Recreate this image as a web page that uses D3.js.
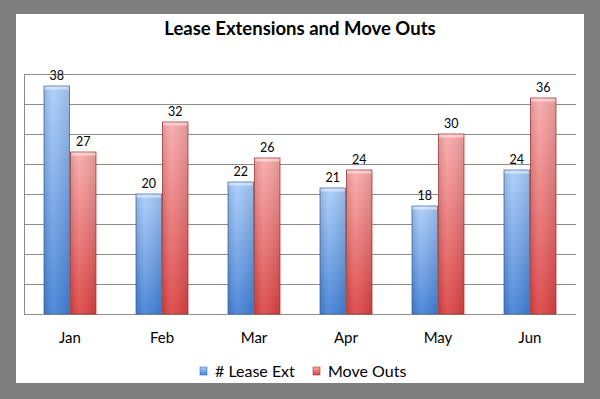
<!DOCTYPE html>
<html>
<head>
<meta charset="utf-8">
<script src="https://cdn.jsdelivr.net/npm/d3@7"></script>
<style>
  html, body { margin: 0; padding: 0; background: #7f7f7f; }
  svg { display: block; }
</style>
</head>
<body>
<svg id="chart"></svg>
<script>
// chart values
var months = ["Jan", "Feb", "Mar", "Apr", "May", "Jun"]
var seriesNames = ["# Lease Ext", "Move Outs"]
var leaseExt = [38, 20, 22, 21, 18, 24]
var moveOuts = [27, 32, 26, 24, 30, 36]
var gridTicks = [0, 5, 10, 15, 20, 25, 30, 35, 40]

var width = 600, height = 399
var plot = {left: 24, right: 576, top: 74, bottom: 314}

var svg = d3.select("#chart")
    .attr("width", width)
    .attr("height", height)

// gradients for the bars
var defs = svg.append("defs")
var grads = [
    {id: "gBlue", top: "#aacdfa", bottom: "#4381d8", stroke: "#3f6fb8"},
    {id: "gRed", top: "#f9aaaa", bottom: "#dd4242", stroke: "#a83a3a"}
]
grads.forEach(g => {
    var lg = defs.append("linearGradient")
        .attr("id", g.id)
        .attr("x1", 0).attr("y1", 0).attr("x2", 0).attr("y2", 1)
    lg.append("stop").attr("offset", "0%").attr("stop-color", g.top)
    lg.append("stop").attr("offset", "100%").attr("stop-color", g.bottom)
    var hg = defs.append("linearGradient")
        .attr("id", g.id + "H")
        .attr("x1", 0).attr("y1", 0).attr("x2", 1).attr("y2", 0)
    hg.append("stop").attr("offset", "0%").attr("stop-color", "#000").attr("stop-opacity", 0.12)
    hg.append("stop").attr("offset", "35%").attr("stop-color", "#fff").attr("stop-opacity", 0.08)
    hg.append("stop").attr("offset", "100%").attr("stop-color", "#000").attr("stop-opacity", 0.1)
})

// white panel
svg.append("rect")
    .attr("x", 16).attr("y", 14)
    .attr("width", 568).attr("height", 369)
    .attr("fill", "#fff")

svg.append("text")
    .attr("x", 300).attr("y", 35)
    .attr("text-anchor", "middle")
    .style("font-family", "Lato, 'Open Sans', sans-serif")
    .style("font-weight", "bold")
    .style("font-size", "18.5px")
    .text("Lease Extensions and Move Outs")

var x = d3.scaleBand()
    .domain(months)
    .range([plot.left, plot.right])

var y = d3.scaleLinear()
    .domain([0, 40])
    .range([plot.bottom, plot.top])

var pairW = 53
var x1 = d3.scaleBand()
    .domain(seriesNames)
    .range([0, pairW])

// gridlines
svg.append("g")
    .selectAll("line")
    .data(gridTicks)
    .join("line")
    .attr("x1", plot.left).attr("x2", plot.right)
    .attr("y1", d => Math.round(y(d)) + 0.5)
    .attr("y2", d => Math.round(y(d)) + 0.5)
    .attr("stroke", "#8c8c8c")
    .attr("stroke-width", 1)

svg.append("line")
    .attr("x1", plot.left + 0.5).attr("x2", plot.left + 0.5)
    .attr("y1", plot.top).attr("y2", plot.bottom)
    .attr("stroke", "#8c8c8c")

var rows = months.map((m, i) => ({month: m, values: [leaseExt[i], moveOuts[i]]}))

var groups = svg.append("g")
    .selectAll("g")
    .data(rows)
    .join("g")
    .attr("transform", d => `translate(${x(d.month) + (x.bandwidth() - pairW) / 2},0)`)

var bars = groups.selectAll("g")
    .data(d => d.values.map((v, j) => ({name: seriesNames[j], value: v, j: j})))
    .join("g")

bars.append("rect")
    .attr("x", d => x1(d.name) + 0.5)
    .attr("y", d => y(d.value))
    .attr("width", x1.bandwidth() - 1)
    .attr("height", d => y(0) - y(d.value))
    .attr("fill", d => `url(#${grads[d.j].id})`)
    .attr("stroke", d => grads[d.j].stroke)
    .attr("stroke-width", 0.8)

bars.append("rect")
    .attr("x", d => x1(d.name) + 0.5)
    .attr("y", d => y(d.value))
    .attr("width", x1.bandwidth() - 1)
    .attr("height", d => y(0) - y(d.value))
    .attr("fill", d => `url(#${grads[d.j].id}H)`)

// top bevel
bars.append("rect")
    .attr("x", d => x1(d.name) + 1)
    .attr("y", d => y(d.value) + 0.5)
    .attr("width", x1.bandwidth() - 2)
    .attr("height", 3)
    .attr("fill", "#fff")
    .attr("fill-opacity", 0.45)

bars.append("text")
    .attr("x", d => x1(d.name) + x1.bandwidth() / 2)
    .attr("y", d => y(d.value) - 6)
    .attr("text-anchor", "middle")
    .style("font-family", "Lato, 'Open Sans', sans-serif")
    .style("font-size", "12.5px")
    .text(d => d.value)

// category labels
svg.append("g")
    .selectAll("text")
    .data(months)
    .join("text")
    .attr("x", d => x(d) + x.bandwidth() / 2)
    .attr("y", 343)
    .attr("text-anchor", "middle")
    .style("font-family", "Lato, 'Open Sans', sans-serif")
    .style("font-size", "15px")
    .text(d => d)

// legend
var legendX = [200, 313]
var legend = svg.append("g")
    .selectAll("g")
    .data(seriesNames)
    .join("g")
    .attr("transform", (d, i) => `translate(${legendX[i]},367)`)

legend.append("rect")
    .attr("width", 7).attr("height", 8)
    .attr("fill", (d, i) => `url(#${grads[i].id})`)
    .attr("stroke", (d, i) => grads[i].stroke)
    .attr("stroke-width", 0.6)

legend.append("text")
    .attr("x", 15).attr("y", 10)
    .style("font-family", "Lato, 'Open Sans', sans-serif")
    .style("font-size", "16px")
    .text(d => d)
</script>
</body>
</html>
